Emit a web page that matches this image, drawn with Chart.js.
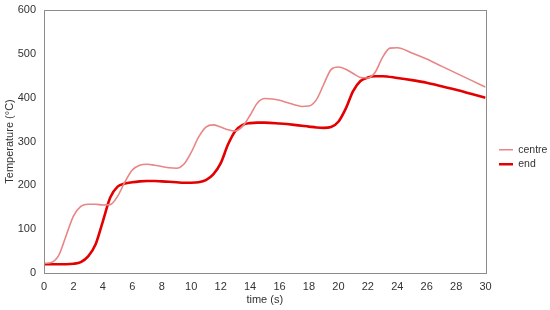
<!DOCTYPE html>
<html><head><meta charset="utf-8">
<script src="https://cdn.jsdelivr.net/npm/chart.js@4/dist/chart.umd.min.js"></script>
<style>html,body{margin:0;padding:0;background:#fff}#wrap{width:550px;height:310px}</style>
</head><body><div id="wrap"><canvas id="c" width="550" height="310"></canvas></div>
<script>
const timeCentre = [0,0.5,1,1.5,2,2.5,3,3.5,4,4.5,5,5.5,6,6.5,7,7.5,8,8.5,9,9.5,10,10.5,11,11.5,12,12.5,13,13.5,14,14.5,15,15.5,16,16.5,17,17.5,18,18.5,19,19.5,20,20.5,21,21.5,22,22.5,23,23.5,24,25,26,27,28,29,30];
const centreValues = [22,24,40,85,130,152,157,157,155,156,175,208,235,246,248,246,243,240,239,248,275,310,333,338,333,327,324,335,360,388,398,397,394,389,384,380,381,395,430,464,470,465,455,446,445,458,492,513,514,502,488,472,456,440,424];
const timeEnd = [0,0.5,1,1.5,2,2.5,3,3.5,4,4.5,5,5.5,6,6.5,7,7.5,8,8.5,9,9.5,10,10.5,11,11.5,12,12.5,13,13.5,14,14.5,15,16,17,18,18.5,19,19.5,20,20.5,21,21.5,22,22.5,23,24,25,26,27,28,29,30];
const endValues = [20,20,20,20,21,25,38,65,118,172,197,204,207,209,210,210,209,208,207,206,206,207,212,225,250,293,324,338,342,343,343,341,338,334,332,331,333,345,375,415,438,446,449,449,445,440,434,426,418,409,400];
const xTicks = [0,2,4,6,8,10,12,14,16,18,20,22,24,26,28,30];
const yTicks = [0,100,200,300,400,500,600];
const seriesNames = ['centre','end'];

const toXY = (xs, ys) => xs.map((x,i)=>({x:x,y:ys[i]}));

const frame = {
  id:'frame',
  afterLayout(chart){
    const lg = chart.legend;
    if (lg) {
      const dx = 499 - (lg.left + 4);
      lg.left += dx; lg.right += dx;
      const dy = -3;
      lg.top += dy; lg.bottom += dy;
    }
  },
  afterDraw(chart){
    const a = chart.chartArea, ctx = chart.ctx;
    ctx.save();
    ctx.strokeStyle = '#8c8c8c';
    ctx.lineWidth = 1;
    ctx.strokeRect(Math.round(a.left)+0.5, Math.round(a.top)+0.5, Math.round(a.right-a.left), Math.round(a.bottom-a.top));
    ctx.restore();
  }
};

Chart.defaults.font.family = '"Liberation Sans", Arial, sans-serif';
Chart.defaults.font.size = 11;
Chart.defaults.color = '#333';

new Chart(document.getElementById('c'), {
  type:'line',
  data:{datasets:[
    {label:seriesNames[0], data:toXY(timeCentre, centreValues), borderColor:'#e98585', backgroundColor:'#e98585', borderWidth:1.6, pointRadius:0, tension:0.4, cubicInterpolationMode:'monotone'},
    {label:seriesNames[1], data:toXY(timeEnd, endValues), borderColor:'#e40000', backgroundColor:'#e40000', borderWidth:2.6, pointRadius:0, tension:0.4, cubicInterpolationMode:'monotone'}
  ]},
  options:{
    responsive:false, animation:false,
    layout:{padding:{top:10,left:0,right:2,bottom:0}},
    plugins:{
      legend:{position:'right', align:'center',
        labels:{usePointStyle:true, pointStyle:'line', pointStyleWidth:14, boxWidth:14, padding:4, color:'#333', font:{size:10.5}}},
      tooltip:{enabled:false}
    },
    scales:{
      x:{type:'linear', min:0, max:30,
        afterBuildTicks(s){ s.ticks = xTicks.map(v=>({value:v})); },
        afterFit(s){ s.height = 37; s.paddingLeft = 0; s.paddingRight = 0; },
        grid:{display:false, drawTicks:false}, border:{display:false},
        ticks:{padding:7, maxRotation:0, color:'#333'},
        title:{display:true, text:'time (s)', padding:{top:0,bottom:3}, color:'#333', font:{size:11}}},
      y:{min:0, max:600,
        afterBuildTicks(s){ s.ticks = yTicks.map(v=>({value:v})); },
        afterFit(s){ s.width = 44; s.paddingTop = 0; s.paddingBottom = 0; },
        grid:{display:false, drawTicks:false}, border:{display:false},
        ticks:{padding:8, color:'#333'},
        title:{display:true, text:'Temperature (°C)', padding:{top:3,bottom:0}, color:'#333', font:{size:11}}}
    }
  },
  plugins:[frame]
});
</script></body></html>
